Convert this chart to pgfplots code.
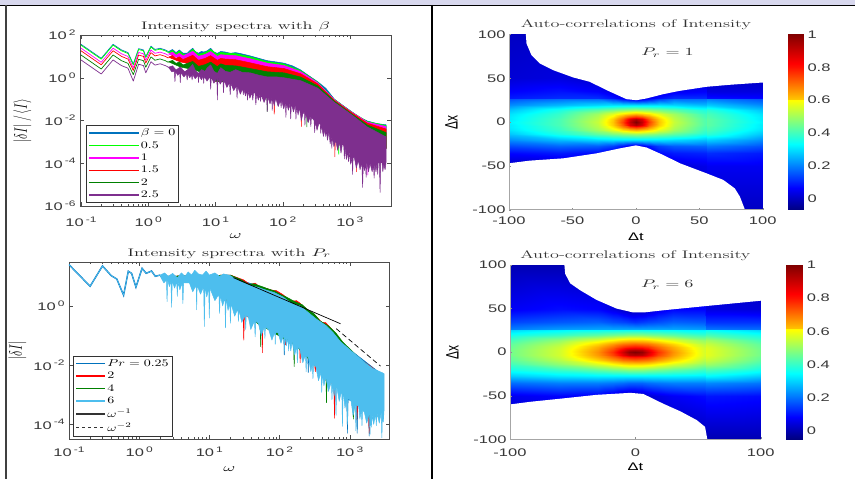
\documentclass[border=0pt]{standalone}
\usepackage{fontspec}
\usepackage{graphicx}
\usepackage{pgfplots}
\pgfplotsset{compat=1.18}
\setsansfont{Liberation Sans}
\definecolor{mblue}{RGB}{0,114,189}
\definecolor{mgreen}{RGB}{0,255,0}
\definecolor{mmag}{RGB}{255,0,255}
\definecolor{mred}{RGB}{255,0,0}
\definecolor{mdk}{RGB}{0,128,0}
\definecolor{mpur}{RGB}{126,47,142}
\definecolor{mlight}{RGB}{77,190,238}
\definecolor{band}{RGB}{216,216,238}
\definecolor{lab}{gray}{0.22}
\newcommand\st[1]{\scalebox{1.5}[1]{#1}}
\newcommand\sn[1]{\st{\sffamily\fontsize{11}{11}\selectfont #1}}
\newcommand\tk[1]{\sn{10\hspace{1.4pt}\raisebox{4.5pt}{\fontsize{8}{8}\selectfont #1}}}
\newcommand\ttl[1]{\scalebox{1.66}[1]{\fontsize{11}{11}\selectfont #1}}
\newcommand\lgt[1]{\scalebox{1.4}[1]{\fontsize{10}{11}\selectfont #1}}
\newcommand\ry[1]{\scalebox{1}[1.5]{\fontsize{12.5}{13}\selectfont #1}}
\pgfplotsset{
 logpanel/.style={scale only axis,axis line style={draw=black!70,line width=0.7pt},
  tick style={draw=black!70},tick align=inside,major tick length=4pt,minor tick length=2pt,
  yticklabel style={text=lab,xshift=-1pt},
  title style={text=black!85,yshift=-6pt},
  legend cell align=left,
  legend style={draw=black!80,line width=0.8pt,fill=white,inner xsep=2pt,inner ysep=2pt,row sep=1.2pt,nodes={inner sep=1.5pt}},
 },
 heat/.style={scale only axis,clip=false,xmin=-100,xmax=100,ymin=-100,ymax=100,axis lines*=left,
  axis on top,axis line style={draw=black!35},tick style={draw=black!45},tick align=inside,major tick length=2pt,
  xtick pos=left,ytick pos=left,ytick={-100,-50,0,50,100},
  yticklabels={\sn{-100},\sn{-50},\sn{0},\sn{50},\sn{100}},
  yticklabel style={text=lab},
  colormap/jet,title style={text=black!80,yshift=-5pt}},
 cbar/.style={scale only axis,xmin=0,xmax=1,xtick=\empty,axis line style={draw=none},
  ytick pos=right,yticklabel pos=right,ytick={0,0.2,0.4,0.6,0.8,1},
  yticklabels={\sn{0},\sn{0.2},\sn{0.4},\sn{0.6},\sn{0.8},\sn{1}},
  major tick length=0pt,yticklabel style={text=lab,anchor=west,xshift=1pt},colormap/jet},
}
\tikzset{
 ln/.style={line width=0.7pt,color=#1,line join=round},
 pg/.style={line width=0.5pt,color=#1,fill=#1,line join=round},
}
\begin{document}
\begin{tikzpicture}[x=1pt,y=1pt]
\useasboundingbox (0,0) rectangle (855,479);
\fill[white] (0,0) rectangle (855,479);
%---------- panel 1
\begin{axis}[logpanel,xmode=log,ymode=log,at={(80pt,273pt)},anchor=south west,width=311pt,height=171pt,
 xmin=0.0966,xmax=4100,ymin=1e-6,ymax=100,
 xtick={0.1,1,10,100,1000},xticklabels={\tk{-1},\tk{0},\tk{1},\tk{2},\tk{3}},
 xticklabel style={text=lab,yshift=-7pt},
 ytick={1e-6,1e-4,1e-2,1,100},yticklabels={\tk{-6},\tk{-4},\tk{-2},\tk{0},\tk{2}},
 title={\ttl{Intensity spectra with $\beta$}},
 xlabel={\ttl{$\omega$}},xlabel style={yshift=0pt},
 ylabel={\ry{$|\delta I|\,/\,\langle I\rangle$}},ylabel style={yshift=6pt},
 legend image code/.code={\path (0pt,0pt) -- (50pt,0pt);\draw[#1] (21pt,0pt) -- (50pt,0pt);},
 legend style={at={(0.0186,0.0175)},anchor=south west}]
\addlegendimage{mblue,line width=1.3pt}\addlegendentry{\lgt{$\beta=0$}\hspace{22pt}}
\addlegendimage{mgreen,line width=1.3pt}\addlegendentry{\lgt{0.5}}
\addlegendimage{mmag,line width=1.3pt}\addlegendentry{\lgt{1}}
\addlegendimage{mred,line width=1.3pt}\addlegendentry{\lgt{1.5}}
\addlegendimage{mdk,line width=1.3pt}\addlegendentry{\lgt{2}}
\addlegendimage{mpur,line width=1.3pt}\addlegendentry{\lgt{2.5}}
% clean low-frequency parts
\addplot[forget plot,ln=mblue] coordinates {(0.1,36.6)(0.2,8.1)(0.3,36.6)(0.4,20)(0.5,15)(0.6,4.4)(0.72,23)(0.85,20)(0.92,9.8)(1.1,30)(1.26,21)(1.5,24)(1.8,20)(2,16.6)};
\addplot[forget plot,ln=mgreen] coordinates {(0.1,33.3)(0.2,7.4)(0.3,33.3)(0.4,18.2)(0.5,13.6)(0.6,4.0)(0.72,21)(0.85,18.2)(0.92,8.9)(1.1,27.3)(1.26,19.1)(1.5,21.8)(1.8,18.2)(2,15.1)};
\addplot[forget plot,ln=mmag] coordinates {(0.1,24.2)(0.2,5.3)(0.3,24.2)(0.4,13.2)(0.5,9.9)(0.6,2.9)(0.72,15.2)(0.85,13.2)(0.92,6.5)(1.1,19.8)(1.26,13.9)(1.5,15.8)(1.8,13.2)(2,11)};
\addplot[forget plot,ln=mred] coordinates {(0.1,18.3)(0.2,4.05)(0.3,18.3)(0.4,10)(0.5,7.5)(0.6,2.2)(0.72,11.5)(0.85,10)(0.92,4.9)(1.1,15)(1.26,10.5)(1.5,12)(1.8,10)(2,8.3)};
\addplot[forget plot,ln=mdk] coordinates {(0.1,11.6)(0.2,2.56)(0.3,11.6)(0.4,6.3)(0.5,4.7)(0.6,1.4)(0.72,7.3)(0.85,6.3)(0.92,3.1)(1.1,9.5)(1.26,6.6)(1.5,7.6)(1.8,6.3)(2,5.2)};
\addplot[forget plot,ln=mpur] coordinates {(0.1,6.8)(0.2,1.5)(0.3,6.8)(0.4,3.7)(0.5,2.8)(0.6,0.7)(0.72,4.3)(0.85,3.7)(0.92,1.7)(1.1,5.6)(1.26,3.9)(1.5,4.5)(1.8,3.7)(2,3.1)};
% dense parts
\addplot[forget plot,pg=mblue] coordinates {(2,16.6)(2.3,21)(2.6,15)(2.9,20)(3.3,14)(3.8,14)(4.2,19)(4.6,24)(5,17)(5.6,14)(6.2,17)(6.7,16)(7.5,18)(8.5,24)(9.5,16)(10.7,13.8)(12,17)(14,16)(16.6,14)(20,15)(25,13)(33,10.5)(45,8)(59,6.3)(80,5.5)(105,4.8)(140,3.6)(186,2.3)(250,1.2)(331,0.66)(440,0.32)(589,0.1)(780,0.052)(1030,0.028)(1400,0.014)(1820,0.0095)(2500,0.0072)(3470,0.0063)
 (3470,0.0005)(1820,0.001)(1030,0.004)(589,0.03)(331,0.1)(186,0.2)(105,0.3)(59,0.4)(33,0.5)(20,0.6)(10,0.7)(7,1.5)(5,9)(3,11)(2,16.6)};
\addplot[forget plot,pg=mgreen] coordinates {(2,15.1)(2.3,19)(2.6,13.6)(2.9,18)(3.3,12.6)(3.8,12.6)(4.6,21.5)(5.6,12.5)(7,15)(8.5,21)(10.7,12.4)(12,15.5)(14,14.4)(20,13.5)(33,9.5)(59,5.7)(105,4.4)(186,2.15)(331,0.63)(589,0.098)(1030,0.027)(1820,0.009)(3470,0.0058)
 (3470,0.0005)(1820,0.001)(1030,0.004)(700,0.0035)(685,2.6e-4)(670,0.006)(589,0.03)(331,0.1)(186,0.2)(105,0.3)(59,0.4)(33,0.5)(20,0.6)(10,0.7)(7,1.5)(5,8)(3,10)(2,15.1)};
\addplot[forget plot,pg=mmag] coordinates {(2,13)(2.3,16)(2.6,11.4)(2.9,14)(3.3,10.5)(4.6,17.3)(5.6,10.1)(7,12.2)(8.5,16.8)(10.7,9.9)(12,12)(14,11.5)(20,10.8)(33,7.7)(59,4.8)(105,3.75)(186,1.93)(331,0.59)(589,0.094)(1030,0.0265)(1820,0.0085)(3470,0.0052)
 (3470,0.0005)(1900,0.001)(1860,2.8e-5)(1820,0.001)(1030,0.004)(589,0.03)(331,0.1)(186,0.2)(105,0.3)(59,0.4)(33,0.5)(20,0.6)(10,0.7)(7,1.5)(5,6)(3,7.8)(2,13)};
\addplot[forget plot,pg=mred] coordinates {(2,9.2)(2.3,11)(2.6,8)(2.9,9.5)(3.3,7.1)(4.6,11.3)(5.6,6.6)(7,8)(8.5,10.8)(10.7,6.5)(12,8)(14,7.5)(20,7)(33,5)(59,3.3)(105,2.7)(186,1.54)(331,0.52)(589,0.088)(1030,0.025)(1820,0.0075)(3470,0.004)
 (3470,0.0005)(1820,0.001)(1285,0.002)(1260,4e-5)(1235,0.002)(1030,0.004)(612,0.02)(600,2e-4)(588,0.02)(331,0.1)(194,0.15)(190,0.0052)(186,0.15)(105,0.3)(76.5,0.4)(75,0.02)(73.5,0.4)(59,0.4)(33,0.5)(20,0.6)(10,0.7)(7,1.5)(5,4)(3,5.5)(2,9.2)};
\addplot[forget plot,pg=mdk] coordinates {(2,5.6)(2.3,6.5)(2.6,4.7)(2.9,5.5)(3.3,4)(4.6,5.8)(5.6,3.4)(7,4.1)(8.5,5.4)(10.7,3.3)(12,4.5)(14,3.8)(20,3.6)(33,2.7)(59,1.9)(105,1.7)(186,1.08)(331,0.42)(589,0.08)(1030,0.022)(1820,0.0062)(3470,0.0027)
 (3470,0.0005)(1820,0.001)(1030,0.004)(589,0.03)(331,0.1)(234,0.15)(230,0.005)(226,0.15)(105,0.3)(60,0.4)(59,0.026)(58,0.4)(33,0.5)(20,0.6)(10,0.7)(7,1.5)(5,2.3)(3,3.2)(2,5.6)};
\addplot[forget plot,pg=mpur] coordinates {(2,3.1)(2.3,3.6)(2.6,2.3)(3,3.2)(3.5,1.9)(4,2.6)(4.6,4.2)(5,2.3)(5.6,1.6)(6.2,2.4)(7,2)(7.5,2.8)(8.5,4)(9.5,2)(10.7,1.6)(12,3)(14,2)(16.6,1.8)(20,2.4)(25,1.8)(33,1.7)(45,1.3)(59,1.1)(80,1.1)(105,1)(186,0.73)(331,0.33)(589,0.07)(1030,0.02)(1820,0.005)(3470,0.0017)
 (3470,1.2e-4)(3350,5e-5)(3200,9e-5)(3100,4e-5)(3000,1.2e-4)(2880,1e-4)(2820,4.3e-6)(2760,1e-4)(2650,1.1e-4)(2600,3e-5)(2550,1.1e-4)(2450,4e-5)(2350,9e-5)(2300,2e-5)(2250,9e-5)(2150,4e-5)(2000,1e-4)(1900,4e-5)(1790,1.1e-4)(1750,2.2e-5)(1710,1.1e-4)(1650,4.5e-5)(1590,1.2e-4)(1550,7.4e-6)(1510,1.2e-4)(1420,5e-5)(1340,1.4e-4)(1250,6e-5)(1170,1.8e-4)(1120,2e-4)(1100,3e-5)(1080,2e-4)(1030,9e-5)(975,3.5e-4)(955,1.2e-4)(935,3.5e-4)(890,1.5e-4)(845,6e-4)(830,1.6e-4)(815,6e-4)(780,9e-4)(740,3e-4)(700,0.001)(660,4e-4)(617,0.0012)(580,6e-4)(550,0.0018)(540,5e-4)(530,0.0018)(510,8e-4)(490,0.003)(465,0.0012)(445,0.004)(437,0.0018)(429,0.004)(405,0.0018)(377,0.0065)(370,0.0025)(363,0.0065)(347,0.0074)(325,0.0035)(306,0.01)(300,0.0027)(294,0.01)(275,0.013)(268,0.014)(263,0.0052)(258,0.016)(240,0.008)(219,0.024)(215,0.006)(211,0.026)(200,0.02)(190,0.01)(178,0.04)(170,0.018)(161,0.05)(158,0.0115)(155,0.055)(145,0.025)(135,0.065)(132,0.012)(129,0.065)(122,0.03)(114,0.07)(112,0.014)(110,0.07)(104,0.035)(97,0.09)(95,0.04)(93,0.09)(86,0.045)(79,0.11)(75,0.05)(71,0.12)(70,0.03)(69,0.12)(65,0.06)(60,0.13)(59,0.026)(58,0.14)(53,0.07)(48,0.16)(47,0.078)(46,0.16)(43.5,0.09)(41,0.19)(40,0.054)(39,0.19)(37,0.2)(36,0.09)(35,0.2)(32.5,0.11)(30.6,0.24)(30,0.09)(29.4,0.26)(28,0.14)(26.5,0.3)(26,0.16)(25.5,0.32)(23.5,0.17)(21.4,0.4)(21,0.11)(20.6,0.42)(18.7,0.25)(17,0.55)(16.6,0.16)(16.2,0.6)(14.8,0.35)(13.5,0.8)(13.2,0.2)(12.9,0.85)(11.8,0.5)(10.9,1)(10.7,0.091)(10.5,1)(9.5,0.55)(8.7,1.1)(8.5,0.29)(8.3,1.1)(7.5,0.7)(6.8,1.2)(6.7,0.55)(6.6,1.2)(6.2,0.8)(5.7,1.3)(5.6,0.6)(5.5,1.3)(5,0.9)(4.6,1.4)(4.5,0.79)(4.4,1.4)(4.15,1)(3.9,1.5)(3.8,0.79)(3.7,1.5)(3.4,1.1)(3.05,1.7)(3,0.59)(2.95,1.7)(2.75,1.3)(2.55,2)(2.5,0.66)(2.45,2)(2.25,1.9)(2,3.1)};
\end{axis}
%---------- panel 2
\begin{axis}[logpanel,xmode=log,ymode=log,at={(69pt,40pt)},anchor=south west,width=320.5pt,height=177pt,
 xmin=0.1,xmax=3700,ymin=3.2e-5,ymax=30.4,
 xtick={0.1,1,10,100,1000},xticklabels={\tk{-1},\tk{0},\tk{1},\tk{2},\tk{3}},
 xticklabel style={text=lab,yshift=-4pt},
 ytick={1e-4,1e-2,1},yticklabels={\tk{-4},\tk{-2},\tk{0}},
 title={\ttl{Intensity sprectra with $P_r$}},
 xlabel={\ttl{$\omega$}},xlabel style={yshift=-3pt},
 ylabel={\ry{$|\delta I|$}},ylabel style={yshift=0pt},
 legend image code/.code={\draw[#1] (0pt,0pt) -- (29pt,0pt);},
 legend style={at={(0.0134,0.0135)},anchor=south west}]
\addlegendimage{mblue,line width=1.3pt}\addlegendentry{\lgt{$Pr=0.25$}}
\addlegendimage{mred,line width=1.3pt}\addlegendentry{\lgt{2}}
\addlegendimage{mdk,line width=1.3pt}\addlegendentry{\lgt{4}}
\addlegendimage{mlight,line width=1.3pt}\addlegendentry{\lgt{6}}
\addlegendimage{black!80,line width=1.1pt}\addlegendentry{\lgt{$\omega^{-1}$}}
\addlegendimage{black!80,line width=1.1pt,dashed}\addlegendentry{\lgt{$\omega^{-2}$}}
\addplot[forget plot,line width=1.4pt,color=mblue] coordinates {(0.1,24.7)(0.2,4.6)(0.3,22.4)(0.4,10.5)(0.48,8.1)(0.6,2.3)(0.7,14.8)(0.78,12.6)(0.9,4.3)(1.1,18.6)(1.26,12.6)(1.5,15.1)(1.7,10)(2,11)};
\addplot[forget plot,ln=mlight] coordinates {(0.1,24.7)(0.2,4.6)(0.3,22.4)(0.4,10.5)(0.48,8.1)(0.6,2.3)(0.7,14.8)(0.78,12.6)(0.9,4.3)(1.1,18.6)(1.26,12.6)(1.5,15.1)(1.7,10)(2,11)};
\addplot[forget plot,pg=mblue] coordinates {(2,10)(20,10)(45,5)(112,2)(330,0.37)(980,0.035)(3000,0.0045)
 (3000,5e-4)(1940,3e-4)(1900,4e-5)(1860,3e-4)(1310,5e-4)(1280,5e-5)(1250,5e-4)(950,7e-4)(930,5e-5)(910,7e-4)(262,0.03)(257,0.0056)(252,0.03)(119,0.12)(117,0.022)(115,0.12)(45,0.4)(10,4.5)(5,7)(2,10)};
\addplot[forget plot,pg=mred] coordinates {(2,10)(20,11)(31,7.5)(38,5.2)(45,5.9)(52,4.4)(65,3.9)(78,3.4)(90,3.3)(112,2.4)(130,1.8)(151,1.45)(175,1.5)(195,1.25)(234,0.85)(280,0.62)(330,0.45)(400,0.28)(457,0.27)(575,0.15)(740,0.07)(900,0.04)(1200,0.02)(2000,0.009)(3000,0.004)
 (3000,5e-4)(1940,3e-4)(1900,5e-5)(1860,3e-4)(1300,5e-4)(1270,1.4e-4)(1240,5e-4)(800,0.0015)(625,0.002)(610,1.6e-4)(595,0.002)(520,0.003)(330,0.01)(324,0.006)(318,0.01)(200,0.04)(197,0.012)(194,0.04)(125,0.1)(122,0.048)(120,0.1)(58,0.22)(57,0.026)(56,0.22)(31.6,0.5)(31,0.07)(30.4,0.5)(10,4.5)(5,7)(2,10)};
\addplot[forget plot,pg=mdk] coordinates {(2,10)(20,11)(28,7.8)(36,5.4)(43,5.6)(55,4.6)(68,3.8)(85,3.2)(105,2.4)(125,2)(165,1.4)(210,1.1)(260,0.7)(310,0.55)(380,0.31)(500,0.21)(640,0.12)(800,0.06)(1000,0.036)(1500,0.014)(3000,0.004)
 (3000,5e-4)(2000,3e-4)(1960,1e-4)(1920,3e-4)(1170,6e-4)(1130,1.5e-4)(1100,6e-4)(800,0.0015)(735,0.002)(720,8.9e-4)(705,0.002)(477,0.004)(468,5.4e-4)(459,0.004)(165,0.05)(162,0.0089)(159,0.05)(55,0.22)(54,0.042)(53,0.22)(10,4.5)(5,7)(2,10)};
\addplot[forget plot,pg=mlight] coordinates {(2,11)(2.3,13)(2.6,10)(3,12.5)(3.5,9)(4,13)(4.5,10)(5,14)(5.6,11)(6.2,16)(7,12)(8,11)(9,15)(10,11)(12,13)(14,10)(16,12)(19.5,10.8)(22,9)(27,7)(37,5)(50,4.2)(65,3.4)(85,2.8)(112,2)(151,1.2)(195,1)(234,0.72)(330,0.37)(457,0.22)(575,0.13)(740,0.062)(980,0.035)(1300,0.02)(1700,0.0115)(2140,0.0077)(3090,0.0052)(3100,0.0042)
 (3100,3.2e-4)(3020,1.2e-4)(2940,2.6e-4)(2880,3.5e-5)(2820,2.6e-4)(2650,1.1e-4)(2450,2.4e-4)(2400,9e-5)(2350,2.3e-4)(2200,1e-4)(2090,2.1e-4)(2040,8e-5)(1990,2.2e-4)(1950,4.5e-5)(1910,2.3e-4)(1750,1.1e-4)(1620,2.6e-4)(1530,3e-4)(1500,9e-5)(1470,3e-4)(1400,1.5e-4)(1350,4e-4)(1255,4.5e-4)(1230,6e-5)(1205,4.8e-4)(1120,2e-4)(1050,6e-4)(950,8e-4)(930,1e-4)(910,8.5e-4)(860,3.5e-4)(806,0.0014)(790,8.5e-5)(774,0.0015)(710,6e-4)(653,0.002)(640,2e-4)(627,0.0022)(600,9e-4)(571,0.0026)(560,6.8e-4)(549,0.0028)(500,0.0013)(457,0.004)(430,0.002)(408,0.0055)(400,0.0012)(392,0.006)(360,0.003)(330,0.009)(306,0.01)(300,0.0035)(294,0.011)(280,0.006)(260,0.017)(245,0.021)(240,0.006)(235,0.023)(215,0.012)(195,0.035)(184,0.04)(180,0.012)(176,0.044)(165,0.022)(151,0.062)(145,0.03)(138,0.08)(135,0.03)(132,0.085)(125,0.045)(119,0.1)(117,0.03)(115,0.105)(105,0.055)(96,0.12)(88,0.132)(87,0.05)(86,0.135)(78,0.07)(70,0.16)(63,0.19)(62,0.08)(61,0.2)(55,0.1)(50,0.26)(46,0.3)(45,0.09)(44,0.31)(39,0.16)(36,0.42)(33.6,0.48)(33,0.16)(32.4,0.5)(29,0.28)(26.5,0.75)(26,0.3)(25.5,0.8)(23,0.45)(20.4,1.2)(20,0.26)(19.6,1.3)(18.5,0.7)(17.3,1.8)(17,0.18)(16.7,1.9)(15.5,1)(14.3,2.4)(14,0.56)(13.7,2.5)(12,1.5)(10.2,4)(10,0.39)(9.8,4)(9.2,2)(8.7,4.5)(8.5,0.2)(8.3,4.5)(7.5,2.5)(6.7,5)(6.6,0.74)(6.5,5)(5.8,3)(5.2,6)(4.3,6)(4.2,1.2)(4.1,6)(3.8,3.5)(3.57,6.5)(3.5,2.1)(3.43,6.5)(3.2,4)(2.96,7)(2.9,0.9)(2.84,7)(2.7,4.5)(2.55,7.5)(2.5,1.4)(2.45,7.5)(2.25,6)(2,10)};
\addplot[forget plot,black,line width=0.7pt] coordinates {(22,9)(741,0.25)};
\addplot[forget plot,black,line width=0.7pt,dash pattern=on 5pt off 3pt] coordinates {(645,0.17)(2750,0.0093)};
\end{axis}
%---------- panel 3
\begin{axis}[heat,at={(509pt,269.3pt)},anchor=south west,width=253.7pt,height=175.2pt,
 xtick={-100,-50,0,50,100},xticklabels={\sn{-100},\sn{-50},\sn{0},\sn{50},\sn{100}},
 xticklabel style={text=lab,yshift=-4pt},
 point meta min=-0.07,point meta max=1,
 title={\ttl{Auto-correlations of Intensity}},
 xlabel={\st{\sffamily\fontsize{11}{11}\selectfont Δt}},xlabel style={yshift=-1pt},
 ylabel={\scalebox{1}[1.5]{\sffamily\fontsize{12}{12}\selectfont Δx}},ylabel style={yshift=8pt}]
\addplot[surf,shader=interp,mesh/cols=14,point meta=explicit] table[row sep=\\,header=false,x index=0,y index=1,meta index=2]{
-100 -100 0\\-60 -100 0\\-30 -100 0\\-18 -100 0\\-10 -100 0\\-5 -100 0\\0 -100 0\\5 -100 0\\10 -100 0\\18 -100 0\\30 -100 0\\55.9 -100 0\\56.1 -100 0\\100 -100 0\\
-100 -50 0\\-60 -50 0\\-30 -50 0\\-18 -50 0\\-10 -50 0\\-5 -50 0\\0 -50 0\\5 -50 0\\10 -50 0\\18 -50 0\\30 -50 .02\\55.9 -50 .04\\56.1 -50 .05\\100 -50 .05\\
-100 -35 .07\\-60 -35 .09\\-30 -35 .07\\-18 -35 .03\\-10 -35 .01\\-5 -35 0\\0 -35 0\\5 -35 .01\\10 -35 .04\\18 -35 .07\\30 -35 .09\\55.9 -35 .1\\56.1 -35 .11\\100 -35 .09\\
-100 -27 .14\\-60 -27 .17\\-30 -27 .16\\-18 -27 .13\\-10 -27 .08\\-5 -27 .04\\0 -27 .02\\5 -27 .04\\10 -27 .08\\18 -27 .13\\30 -27 .16\\55.9 -27 .17\\56.1 -27 .19\\100 -27 .15\\
-100 -20 .21\\-60 -20 .26\\-30 -20 .29\\-18 -20 .3\\-10 -20 .3\\-5 -20 .3\\0 -20 .3\\5 -20 .3\\10 -20 .3\\18 -20 .3\\30 -20 .29\\55.9 -20 .26\\56.1 -20 .28\\100 -20 .21\\
-100 -14 .27\\-60 -14 .36\\-30 -14 .43\\-18 -14 .46\\-10 -14 .48\\-5 -14 .49\\0 -14 .5\\5 -14 .49\\10 -14 .48\\18 -14 .46\\30 -14 .43\\55.9 -14 .36\\56.1 -14 .38\\100 -14 .27\\
-100 -9 .3\\-60 -9 .39\\-30 -9 .5\\-18 -9 .57\\-10 -9 .63\\-5 -9 .66\\0 -9 .68\\5 -9 .66\\10 -9 .63\\18 -9 .57\\30 -9 .5\\55.9 -9 .39\\56.1 -9 .41\\100 -9 .3\\
-100 -6 .31\\-60 -6 .4\\-30 -6 .52\\-18 -6 .62\\-10 -6 .72\\-5 -6 .79\\0 -6 .82\\5 -6 .79\\10 -6 .72\\18 -6 .62\\30 -6 .52\\55.9 -6 .4\\56.1 -6 .42\\100 -6 .31\\
-100 -3 .31\\-60 -3 .41\\-30 -3 .53\\-18 -3 .65\\-10 -3 .77\\-5 -3 .9\\0 -3 .95\\5 -3 .9\\10 -3 .77\\18 -3 .65\\30 -3 .53\\55.9 -3 .41\\56.1 -3 .43\\100 -3 .31\\
-100 0 .32\\-60 0 .41\\-30 0 .54\\-18 0 .66\\-10 0 .8\\-5 0 .93\\0 0 1\\5 0 .93\\10 0 .8\\18 0 .66\\30 0 .54\\55.9 0 .41\\56.1 0 .43\\100 0 .32\\
-100 3 .31\\-60 3 .41\\-30 3 .53\\-18 3 .65\\-10 3 .77\\-5 3 .9\\0 3 .95\\5 3 .9\\10 3 .77\\18 3 .65\\30 3 .53\\55.9 3 .41\\56.1 3 .43\\100 3 .31\\
-100 6 .31\\-60 6 .4\\-30 6 .52\\-18 6 .62\\-10 6 .72\\-5 6 .79\\0 6 .82\\5 6 .79\\10 6 .72\\18 6 .62\\30 6 .52\\55.9 6 .4\\56.1 6 .42\\100 6 .31\\
-100 9 .3\\-60 9 .39\\-30 9 .5\\-18 9 .57\\-10 9 .63\\-5 9 .66\\0 9 .68\\5 9 .66\\10 9 .63\\18 9 .57\\30 9 .5\\55.9 9 .39\\56.1 9 .41\\100 9 .3\\
-100 14 .27\\-60 14 .36\\-30 14 .43\\-18 14 .46\\-10 14 .48\\-5 14 .49\\0 14 .5\\5 14 .49\\10 14 .48\\18 14 .46\\30 14 .43\\55.9 14 .36\\56.1 14 .38\\100 14 .27\\
-100 20 .21\\-60 20 .26\\-30 20 .29\\-18 20 .3\\-10 20 .3\\-5 20 .3\\0 20 .3\\5 20 .3\\10 20 .3\\18 20 .3\\30 20 .29\\55.9 20 .26\\56.1 20 .28\\100 20 .21\\
-100 26.9 .15\\-60 26.9 .18\\-30 26.9 .18\\-18 26.9 .13\\-10 26.9 .08\\-5 26.9 .05\\0 26.9 .03\\5 26.9 .05\\10 26.9 .08\\18 26.9 .13\\30 26.9 .18\\55.9 26.9 .18\\56.1 26.9 .2\\100 26.9 .15\\
-100 27.1 .09\\-60 27.1 .11\\-30 27.1 .11\\-18 27.1 .08\\-10 27.1 .05\\-5 27.1 .02\\0 27.1 0\\5 27.1 .02\\10 27.1 .05\\18 27.1 .08\\30 27.1 .11\\55.9 27.1 .11\\56.1 27.1 .08\\100 27.1 .07\\
-100 35 .06\\-60 35 .08\\-30 35 .06\\-18 35 .03\\-10 35 .01\\-5 35 0\\0 35 0\\5 35 0\\10 35 0\\18 35 .02\\30 35 .05\\55.9 35 .06\\56.1 35 .03\\100 35 .03\\
-100 50 .02\\-60 50 .03\\-30 50 .01\\-18 50 0\\-10 50 0\\-5 50 0\\0 50 0\\5 50 0\\10 50 0\\18 50 0\\30 50 .01\\55.9 50 .01\\56.1 50 0\\100 50 0\\
-100 100 0\\-60 100 0\\-30 100 0\\-18 100 0\\-10 100 0\\-5 100 0\\0 100 0\\5 100 0\\10 100 0\\18 100 0\\30 100 0\\55.9 100 0\\56.1 100 0\\100 100 0\\
};
\addplot[fill=white,draw=none] coordinates {(-86.7,101)(-86.7,100)(-86.2,89.7)(-82.3,76.4)(-75.7,66.9)(-65.2,59.3)(-49.4,51)(-36.3,46)(-23.1,36.5)(-7.4,26.2)(0.5,25)(8.4,27)(21.6,31.9)(34.7,35.7)(55.7,40.3)(74.1,42.6)(100,45.2)(101,45.2)(101,101)};
\addplot[fill=white,draw=none] coordinates {(-100.5,-101)(-100.5,-47)(-100,-47)(-83.6,-44)(-57.3,-41.4)(-31,-35.7)(-12.6,-30)(0,-26.6)(8.4,-29)(21.6,-37.6)(34.7,-47)(55.7,-58.5)(68.9,-66)(78,-75.7)(82,-85)(86,-100)(86,-101)};
\node[text=black!80] at (axis cs:25,79) {\ttl{$P_r=1$}};
\end{axis}
\begin{axis}[cbar,at={(787.7pt,269.3pt)},anchor=south west,width=15.3pt,height=175.2pt,ymin=-0.07,ymax=1,point meta min=-0.07,point meta max=1]
\addplot[surf,shader=interp,mesh/cols=2,point meta=explicit] table[row sep=\\,header=false,x index=0,y index=1,meta index=2]{
0 -0.07 -0.07\\1 -0.07 -0.07\\0 0.607 0.607\\1 0.607 0.607\\0 0.609 0.66\\1 0.609 0.66\\0 0.8 0.85\\1 0.8 0.85\\0 1 1\\1 1 1\\
};
\end{axis}
%---------- panel 4
\begin{axis}[heat,at={(510pt,39.7pt)},anchor=south west,width=250.7pt,height=174.3pt,
 xtick={-100,0,100},xticklabels={\sn{-100},\sn{0},\sn{100}},
 xticklabel style={text=lab,yshift=-5.5pt},
 point meta min=-0.052,point meta max=1,
 title={\ttl{Auto-correlations of Intensity}},
 xlabel={\st{\sffamily\fontsize{11}{11}\selectfont Δt}},xlabel style={yshift=0pt},
 ylabel={\scalebox{1}[1.5]{\sffamily\fontsize{12}{12}\selectfont Δx}},ylabel style={yshift=8pt}]
\addplot[surf,shader=interp,mesh/cols=14,point meta=explicit] table[row sep=\\,header=false,x index=0,y index=1,meta index=2]{
-100 -100 0\\-60 -100 0\\-30 -100 0\\-18 -100 0\\-10 -100 0\\-5 -100 0\\0 -100 0\\5 -100 0\\10 -100 0\\18 -100 0\\30 -100 0\\55.9 -100 0\\56.1 -100 0\\100 -100 0\\
-100 -50 .06\\-60 -50 .08\\-30 -50 .07\\-18 -50 .04\\-10 -50 .01\\-5 -50 0\\0 -50 0\\5 -50 .01\\10 -50 .03\\18 -50 .05\\30 -50 .07\\55.9 -50 .09\\56.1 -50 .1\\100 -50 .09\\
-100 -35 .19\\-60 -35 .21\\-30 -35 .21\\-18 -35 .2\\-10 -35 .19\\-5 -35 .18\\0 -35 .18\\5 -35 .18\\10 -35 .19\\18 -35 .2\\30 -35 .21\\55.9 -35 .21\\56.1 -35 .22\\100 -35 .2\\
-100 -27 .29\\-60 -27 .32\\-30 -27 .33\\-18 -27 .33\\-10 -27 .33\\-5 -27 .33\\0 -27 .33\\5 -27 .33\\10 -27 .33\\18 -27 .33\\30 -27 .33\\55.9 -27 .32\\56.1 -27 .34\\100 -27 .29\\
-100 -20 .36\\-60 -20 .4\\-30 -20 .44\\-18 -20 .46\\-10 -20 .47\\-5 -20 .48\\0 -20 .48\\5 -20 .48\\10 -20 .47\\18 -20 .46\\30 -20 .44\\55.9 -20 .4\\56.1 -20 .42\\100 -20 .36\\
-100 -14 .41\\-60 -14 .49\\-30 -14 .57\\-18 -14 .61\\-10 -14 .64\\-5 -14 .65\\0 -14 .65\\5 -14 .65\\10 -14 .64\\18 -14 .61\\30 -14 .57\\55.9 -14 .49\\56.1 -14 .51\\100 -14 .41\\
-100 -9 .44\\-60 -9 .53\\-30 -9 .65\\-18 -9 .71\\-10 -9 .75\\-5 -9 .76\\0 -9 .77\\5 -9 .76\\10 -9 .75\\18 -9 .71\\30 -9 .65\\55.9 -9 .53\\56.1 -9 .55\\100 -9 .44\\
-100 -6 .45\\-60 -6 .55\\-30 -6 .69\\-18 -6 .76\\-10 -6 .82\\-5 -6 .84\\0 -6 .85\\5 -6 .84\\10 -6 .82\\18 -6 .76\\30 -6 .69\\55.9 -6 .55\\56.1 -6 .57\\100 -6 .45\\
-100 -3 .46\\-60 -3 .56\\-30 -3 .71\\-18 -3 .8\\-10 -3 .89\\-5 -3 .94\\0 -3 .95\\5 -3 .94\\10 -3 .89\\18 -3 .8\\30 -3 .71\\55.9 -3 .56\\56.1 -3 .58\\100 -3 .46\\
-100 0 .46\\-60 0 .56\\-30 0 .72\\-18 0 .82\\-10 0 .92\\-5 0 .98\\0 0 1\\5 0 .98\\10 0 .92\\18 0 .82\\30 0 .72\\55.9 0 .56\\56.1 0 .58\\100 0 .46\\
-100 3 .46\\-60 3 .56\\-30 3 .71\\-18 3 .8\\-10 3 .89\\-5 3 .94\\0 3 .95\\5 3 .94\\10 3 .89\\18 3 .8\\30 3 .71\\55.9 3 .56\\56.1 3 .58\\100 3 .46\\
-100 6 .45\\-60 6 .55\\-30 6 .69\\-18 6 .76\\-10 6 .82\\-5 6 .84\\0 6 .85\\5 6 .84\\10 6 .82\\18 6 .76\\30 6 .69\\55.9 6 .55\\56.1 6 .57\\100 6 .45\\
-100 9 .44\\-60 9 .53\\-30 9 .65\\-18 9 .71\\-10 9 .75\\-5 9 .76\\0 9 .77\\5 9 .76\\10 9 .75\\18 9 .71\\30 9 .65\\55.9 9 .53\\56.1 9 .55\\100 9 .44\\
-100 14 .41\\-60 14 .49\\-30 14 .57\\-18 14 .61\\-10 14 .64\\-5 14 .65\\0 14 .65\\5 14 .65\\10 14 .64\\18 14 .61\\30 14 .57\\55.9 14 .49\\56.1 14 .51\\100 14 .41\\
-100 20 .36\\-60 20 .4\\-30 20 .44\\-18 20 .46\\-10 20 .47\\-5 20 .48\\0 20 .48\\5 20 .48\\10 20 .47\\18 20 .46\\30 20 .44\\55.9 20 .4\\56.1 20 .42\\100 20 .36\\
-100 26.9 .29\\-60 26.9 .32\\-30 26.9 .33\\-18 26.9 .33\\-10 26.9 .33\\-5 26.9 .33\\0 26.9 .33\\5 26.9 .33\\10 26.9 .33\\18 26.9 .33\\30 26.9 .33\\55.9 26.9 .32\\56.1 26.9 .34\\100 26.9 .29\\
-100 27.1 .21\\-60 27.1 .24\\-30 27.1 .25\\-18 27.1 .25\\-10 27.1 .25\\-5 27.1 .25\\0 27.1 .25\\5 27.1 .25\\10 27.1 .25\\18 27.1 .25\\30 27.1 .25\\55.9 27.1 .24\\56.1 27.1 .2\\100 27.1 .19\\
-100 35 .15\\-60 35 .17\\-30 35 .18\\-18 35 .16\\-10 35 .15\\-5 35 .14\\0 35 .13\\5 35 .14\\10 35 .15\\18 35 .16\\30 35 .18\\55.9 35 .17\\56.1 35 .13\\100 35 .13\\
-100 50 .07\\-60 50 .09\\-30 50 .08\\-18 50 .05\\-10 50 .02\\-5 50 0\\0 50 0\\5 50 0\\10 50 .02\\18 50 .05\\30 50 .08\\55.9 50 .08\\56.1 50 .05\\100 50 .04\\
-100 100 0\\-60 100 0\\-30 100 0\\-18 100 0\\-10 100 0\\-5 100 0\\0 100 0\\5 100 0\\10 100 0\\18 100 0\\30 100 0\\55.9 100 0\\56.1 100 0\\100 100 0\\
};
\addplot[fill=white,draw=none] coordinates {(-56.6,101)(-56.6,100)(-56,90)(-52,79)(-44,71)(-31,60)(-15,50)(-1.6,45.5)(6.4,45.5)(22,48)(57,53)(100,59)(101,59)(101,101)};
\addplot[fill=white,draw=none] coordinates {(-100.5,-101)(-100.5,-60)(-100,-60)(-84,-57)(-57,-53)(-31,-49)(-4,-46.7)(6.4,-48)(22,-59)(36,-68)(49,-78)(55.6,-85.7)(57.4,-100)(57.4,-101)};
\node[text=black!80] at (axis cs:25.5,77) {\ttl{$P_r=6$}};
\end{axis}
\begin{axis}[cbar,at={(786pt,39.7pt)},anchor=south west,width=16.3pt,height=174.3pt,ymin=-0.052,ymax=1,point meta min=-0.052,point meta max=1]
\addplot[surf,shader=interp,mesh/cols=2,point meta=explicit] table[row sep=\\,header=false,x index=0,y index=1,meta index=2]{
0 -0.052 -0.052\\1 -0.052 -0.052\\0 0.617 0.617\\1 0.617 0.617\\0 0.619 0.67\\1 0.619 0.67\\0 0.8 0.85\\1 0.8 0.85\\0 1 1\\1 1 1\\
};
\end{axis}
%---------- frame
\fill[band] (0,474.3) rectangle (855,479);
\draw[black,line width=1pt] (0,473.8) -- (855,473.8);
\draw[black!75,line width=1.6pt] (6,474) -- (6,0);
\draw[black,line width=1.8pt] (432,474) -- (432,0);
\end{tikzpicture}
\end{document}
